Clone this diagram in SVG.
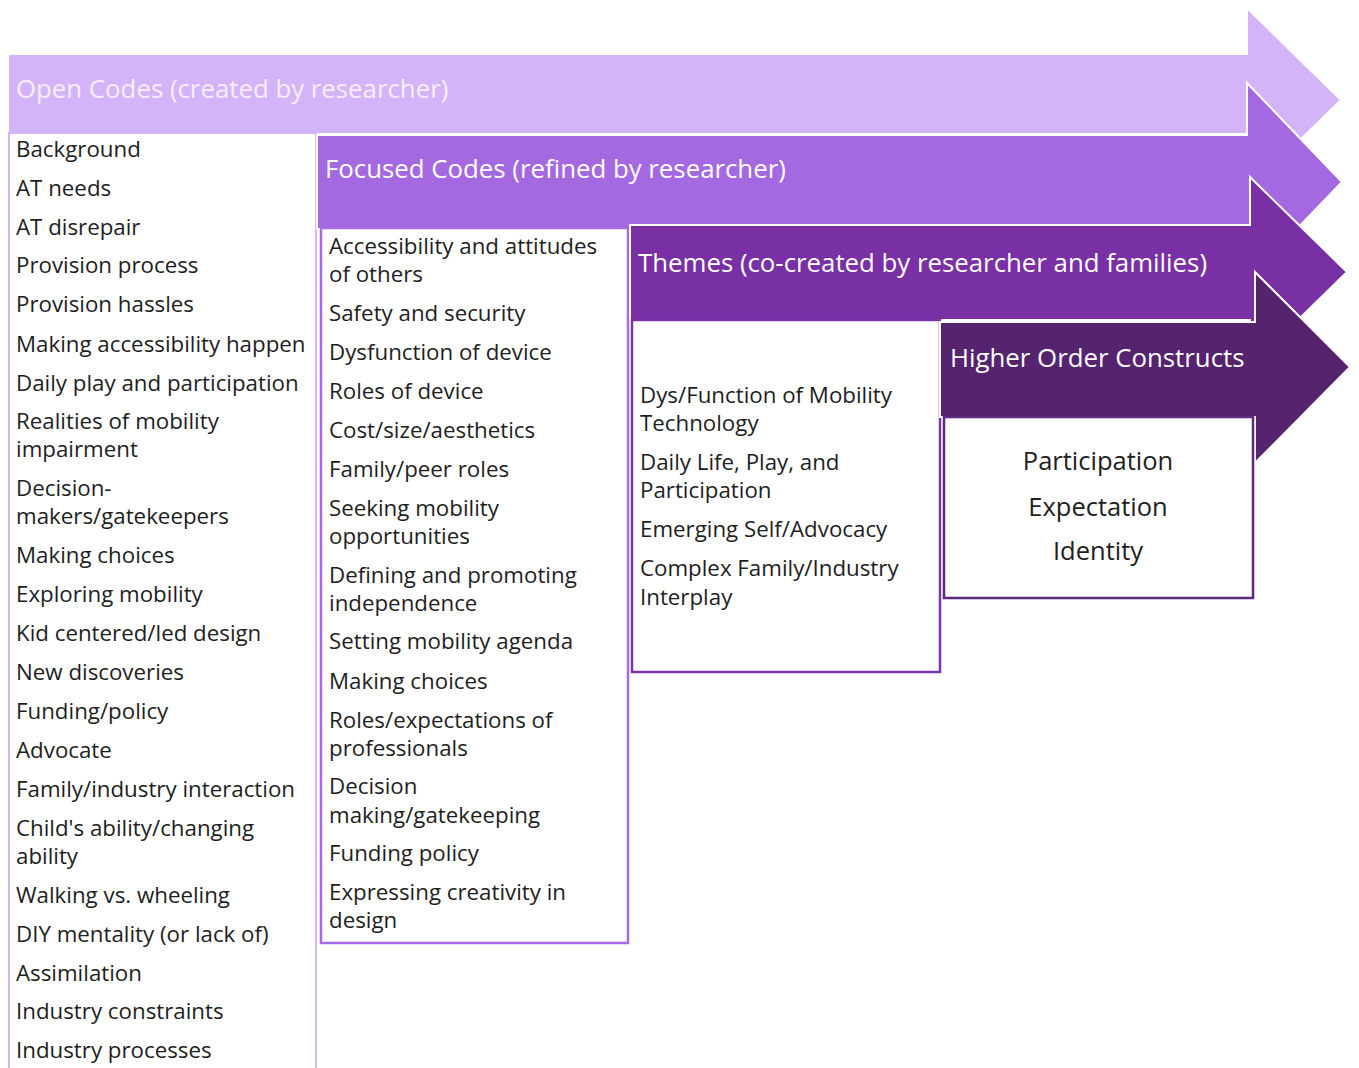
<svg xmlns="http://www.w3.org/2000/svg" width="1359" height="1068" viewBox="0 0 1359 1068">
  <style>
    .arrow { stroke: #ffffff; stroke-width: 2; stroke-linejoin: miter; }
    .a1 { fill: #D4B4F8; }
    .a2 { fill: #A469E1; }
    .a3 { fill: #7A30A5; }
    .a4 { fill: #56236F; }
    .box { fill: #ffffff; stroke-width: 2.5; }
    .b1 { stroke: #D4B4F8; stroke-width: 2; }
    .b2 { stroke: #A66BE2; }
    .b3 { stroke: #7B35AA; }
    .b4 { stroke: #5C2880; }
    .title { font-family: "Open Sans", "Liberation Sans", sans-serif; font-size: 25.8px; fill: #ffffff; }
    .t1 { fill: #F6EEFF; }
    .item { font-family: "Open Sans", "Liberation Sans", sans-serif; font-size: 22.3px; fill: #1e1e1e; }
    .big { font-size: 25.5px; text-anchor: middle; }
  </style>

  <rect width="1359" height="1068" fill="#ffffff"/>

  <!-- Stage 1: open codes -->
  <g id="open-codes">
    <polygon class="arrow a1" points="8,54 1247,54 1247,8 1341,100 1247,192 1247,134 8,134"/>
    <text class="title t1" x="16" y="98">Open Codes (created by researcher)</text>
    <rect class="box b1" x="9" y="133" width="307" height="950"/>
    <g class="item">
      <text x="16" y="157">Background</text>
      <text x="16" y="196">AT needs</text>
      <text x="16" y="235">AT disrepair</text>
      <text x="16" y="273">Provision process</text>
      <text x="16" y="312">Provision hassles</text>
      <text x="16" y="352">Making accessibility happen</text>
      <text x="16" y="391">Daily play and participation</text>
      <text x="16" y="429">Realities of mobility</text>
      <text x="16" y="457">impairment</text>
      <text x="16" y="496">Decision-</text>
      <text x="16" y="524">makers/gatekeepers</text>
      <text x="16" y="563">Making choices</text>
      <text x="16" y="602">Exploring mobility</text>
      <text x="16" y="641">Kid centered/led design</text>
      <text x="16" y="680">New discoveries</text>
      <text x="16" y="719">Funding/policy</text>
      <text x="16" y="758">Advocate</text>
      <text x="16" y="797">Family/industry interaction</text>
      <text x="16" y="836">Child's ability/changing</text>
      <text x="16" y="864">ability</text>
      <text x="16" y="903">Walking vs. wheeling</text>
      <text x="16" y="942">DIY mentality (or lack of)</text>
      <text x="16" y="981">Assimilation</text>
      <text x="16" y="1019">Industry constraints</text>
      <text x="16" y="1058">Industry processes</text>
    </g>
  </g>

  <!-- Stage 2: focused codes -->
  <g id="focused-codes">
    <polygon class="arrow a2" points="317,135 1247,135 1247,83 1342,182 1247,281 1247,229 317,229"/>
    <text class="title" x="325" y="178">Focused Codes (refined by researcher)</text>
    <rect class="box b2" x="321" y="228" width="307" height="715"/>
    <g class="item">
      <text x="329" y="254">Accessibility and attitudes</text>
      <text x="329" y="282">of others</text>
      <text x="329" y="321">Safety and security</text>
      <text x="329" y="360">Dysfunction of device</text>
      <text x="329" y="399">Roles of device</text>
      <text x="329" y="438">Cost/size/aesthetics</text>
      <text x="329" y="477">Family/peer roles</text>
      <text x="329" y="516">Seeking mobility</text>
      <text x="329" y="544">opportunities</text>
      <text x="329" y="583">Defining and promoting</text>
      <text x="329" y="611">independence</text>
      <text x="329" y="649">Setting mobility agenda</text>
      <text x="329" y="689">Making choices</text>
      <text x="329" y="728">Roles/expectations of</text>
      <text x="329" y="756">professionals</text>
      <text x="329" y="794">Decision</text>
      <text x="329" y="823">making/gatekeeping</text>
      <text x="329" y="861">Funding policy</text>
      <text x="329" y="900">Expressing creativity in</text>
      <text x="329" y="928">design</text>
    </g>
  </g>

  <!-- Stage 3: themes -->
  <g id="themes">
    <polygon class="arrow a3" points="630,225 1250,225 1250,177 1347,272 1250,367 1250,320 630,320"/>
    <text class="title" x="638" y="272">Themes (co-created by researcher and families)</text>
    <rect class="box b3" x="632" y="320" width="308" height="352"/>
    <g class="item">
      <text x="640" y="403">Dys/Function of Mobility</text>
      <text x="640" y="431">Technology</text>
      <text x="640" y="470">Daily Life, Play, and</text>
      <text x="640" y="498">Participation</text>
      <text x="640" y="537">Emerging Self/Advocacy</text>
      <text x="640" y="576">Complex Family/Industry</text>
      <text x="640" y="605">Interplay</text>
    </g>
  </g>

  <!-- Stage 4: higher order constructs -->
  <g id="higher-order">
    <polygon class="arrow a4" points="940,322 1255,322 1255,272 1350,367 1255,463 1255,417 940,417"/>
    <text class="title" x="950" y="367">Higher Order Constructs</text>
    <rect class="box b4" x="944" y="417" width="309" height="181"/>
    <g class="item big">
      <text x="1098" y="470">Participation</text>
      <text x="1098" y="516">Expectation</text>
      <text x="1098" y="560">Identity</text>
    </g>
  </g>

  <g id="connectors"/>
</svg>
